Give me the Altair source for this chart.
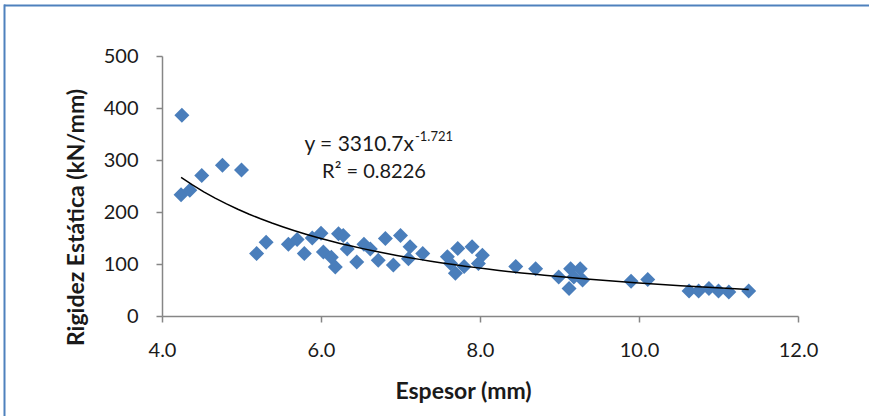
import altair as alt
import pandas as pd

espesor = [4.25, 4.24, 4.35, 4.50, 4.76, 5.00, 5.19, 5.31, 5.59, 5.70,
           5.79, 5.89, 6.00, 6.03, 6.13, 6.18, 6.22, 6.28, 6.33, 6.45,
           6.54, 6.62, 6.72, 6.81, 6.91, 7.00, 7.10, 7.12, 7.28,
           7.72, 7.90, 8.03, 7.63, 7.69, 7.80, 7.59, 7.98,
           8.45, 8.70,
           8.99, 9.14, 9.26, 9.12, 9.29, 9.18,
           9.90, 10.11, 10.63, 10.75, 10.88, 11.00, 11.13, 11.38]
rigidez = [386, 233, 242, 270, 290, 281, 120, 142, 138, 147,
           120, 150, 159, 123, 113, 94, 158, 155, 129, 104,
           138, 129, 107, 149, 98, 155, 110, 133, 120,
           130, 133, 117, 101, 82, 95, 114, 101,
           95, 91,
           75, 91, 91, 53, 69, 75,
           67, 70, 48, 48, 53, 48, 46, 48]

x_ticks = [4, 6, 8, 10, 12]
y_ticks = [0, 100, 200, 300, 400, 500]

df = pd.DataFrame({"x": espesor, "y": rigidez})

FONT = "Lato"
AX = "#868686"
TXT = "#1a1a1a"

xscale = alt.Scale(domain=[4, 12], nice=False, zero=False)
yscale = alt.Scale(domain=[0, 500], nice=False)

xaxis = alt.Axis(values=x_ticks, format=".1f", grid=False, title="Espesor (mm)",
                 titleX=301, titleY=75, titleAlign="center", titleBaseline="middle",
                 labelPadding=18, labelFlush=False)
yaxis = alt.Axis(values=y_ticks, grid=False, title="Rigidez Estática (kN/mm)",
                 titleX=-86, titleY=161, titleAlign="center", titleBaseline="middle",
                 labelPadding=18, labelFlush=False)

base = alt.Chart(df)

points = base.mark_point(shape="diamond", filled=True, size=225, color="#4A7EBB",
                         opacity=1).encode(
    x=alt.X("x:Q", scale=xscale, axis=xaxis),
    y=alt.Y("y:Q", scale=yscale, axis=yaxis),
)

trend = base.transform_regression("x", "y", method="pow").mark_line(
    color="black", strokeWidth=1.5).encode(
    x=alt.X("x:Q", scale=xscale),
    y=alt.Y("y:Q", scale=yscale),
)

one = alt.Data(values=[{"a": 1}])

eq_main = alt.Chart(one).mark_text(text="y = 3310.7x", font=FONT, fontSize=21,
                                   align="right", baseline="middle", color=TXT).encode(
    x=alt.value(252), y=alt.value(89))
eq_exp = alt.Chart(one).mark_text(text="-1.721", font=FONT, fontSize=13,
                                  align="left", baseline="middle", color=TXT).encode(
    x=alt.value(253), y=alt.value(81))
r2 = alt.Chart(one).mark_text(text="R² = 0.8226", font=FONT, fontSize=20,
                              align="center", baseline="middle", color=TXT).encode(
    x=alt.value(212), y=alt.value(116))

border_top = alt.Chart(one).mark_rule(color="#4F81BD", strokeWidth=2).encode(
    x=alt.value(-158), x2=alt.value(720), y=alt.value(-50.5))
border_left = alt.Chart(one).mark_rule(color="#4F81BD", strokeWidth=2).encode(
    x=alt.value(-157.5), y=alt.value(-51.5), y2=alt.value(370))

chart = alt.layer(border_top, border_left, points, trend, eq_main, eq_exp, r2).properties(
    width=636, height=260,
    autosize=alt.AutoSizeParams(type="none"),
    padding={"left": 162, "top": 56, "right": 71, "bottom": 100},
    background="white",
).configure_view(stroke=None).configure_axis(
    labelFont=FONT, labelFontSize=20, labelColor=TXT,
    titleFont=FONT, titleFontSize=23, titleFontWeight="bold", titleColor=TXT,
    domainColor=AX, domainWidth=1.5, tickColor=AX, tickWidth=1.5, tickSize=6,
)

chart.save("out.html", embed_options={"renderer": "svg", "actions": False})
